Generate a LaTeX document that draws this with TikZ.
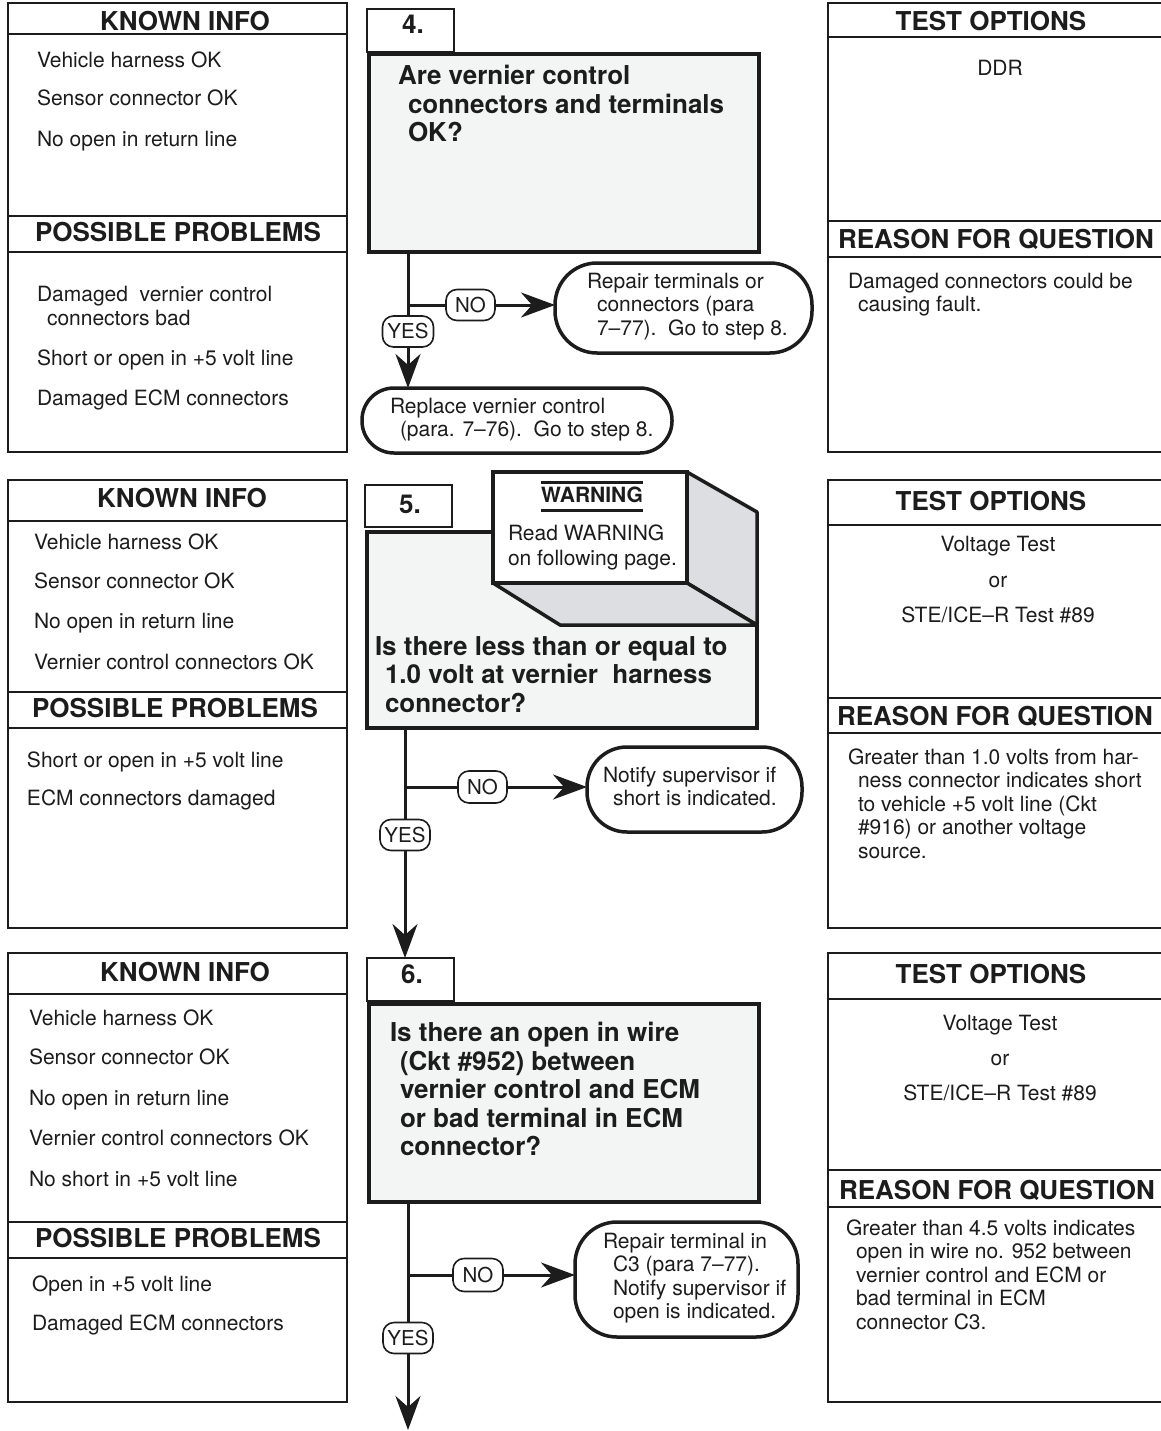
\documentclass[tikz,border=0pt]{standalone}
\usepackage{fontspec}
\setmainfont{TeX Gyre Heros}
\usetikzlibrary{arrows.meta}
\definecolor{ink}{HTML}{1C1C1C}
\definecolor{qgray}{HTML}{F3F4F4}
\definecolor{sidegray}{HTML}{DDDEE1}
\newcommand{\fBody}{\fontsize{21}{23.5}\selectfont}
\newcommand{\fHead}{\fontsize{26}{28}\selectfont\bfseries}
\newcommand{\fQues}{\fontsize{26}{28.5}\selectfont\bfseries}
\newcommand{\fLbl}{\fontsize{20.5}{22}\selectfont}
\newcommand{\fWarn}{\fontsize{21}{23.5}\selectfont\bfseries}
\newcommand{\sB}{\rule{0pt}{16pt}}
\newcommand{\sQ}{\rule{0pt}{20pt}}
\newcommand{\myind}{\hspace*{10pt}}
\begin{document}
\begin{tikzpicture}[x=1pt,y=-1pt,
  every node/.style={inner sep=0pt, outer sep=0pt, text=ink},
  infobox/.style={draw=ink, line width=1.8pt},
  rule/.style={draw=ink, line width=1.8pt},
  qbox/.style={draw=ink, line width=3.5pt, fill=qgray},
  stepbox/.style={draw=ink, line width=2pt, fill=white},
  outcome/.style={draw=ink, line width=3.5pt, fill=white},
  lbl/.style={draw=ink, line width=1.6pt, fill=white, rounded corners=11pt, font=\fLbl},
  flow/.style={draw=ink, line width=3pt},
  arr/.style={flow, -{Stealth[length=34pt,width=25pt,inset=11pt]}},
  hd/.style={anchor=base, font=\fHead},
  txt/.style={anchor=base west, font=\fBody},
  ctxt/.style={anchor=base, font=\fBody},
  para/.style={anchor=north west, align=left, font=\fBody},
  ques/.style={anchor=north west, align=left, font=\fQues},
  face/.style={draw=ink, line width=3.5pt, fill=sidegray, line join=round},
  bar/.style={draw=ink, line width=3pt},
]
\useasboundingbox (0,0) rectangle (1160,1431);
\fill[white] (0,0) rectangle (1160,1431);

% ---------------- left column ----------------
\node[infobox, minimum width=339pt, minimum height=449pt] (k1) at (177.5,227.5) {};
\draw[rule] (k1.west |- 0,34) -- (k1.east |- 0,34);
\draw[rule] (k1.west |- 0,216) -- (k1.east |- 0,216);
\draw[rule] (k1.west |- 0,252) -- (k1.east |- 0,252);
\node[hd] (k1h) at (185,31) {KNOWN INFO};
\node[txt] (k1a) at (37,68) {Vehicle harness OK};
\node[txt] (k1b) at (37,106) {Sensor connector OK};
\node[txt] (k1c) at (37,147) {No open in return line};
\node[hd] (p1h) at (178,241) {POSSIBLE PROBLEMS};
\node[para] (p1a) at (37,285.7) {\sB Damaged\ \ vernier control\\\myind connectors bad};
\node[txt] (p1b) at (37,365) {Short or open in +5 volt line};
\node[txt] (p1c) at (37,405.5) {Damaged ECM connectors};

\node[infobox, minimum width=339pt, minimum height=448pt] (k2) at (177.5,704) {};
\draw[rule] (k2.west |- 0,521) -- (k2.east |- 0,521);
\draw[rule] (k2.west |- 0,692) -- (k2.east |- 0,692);
\draw[rule] (k2.west |- 0,728) -- (k2.east |- 0,728);
\node[hd] (k2h) at (182,507) {KNOWN INFO};
\node[txt] (k2a) at (34,549.3) {Vehicle harness OK};
\node[txt] (k2b) at (34,588.3) {Sensor connector OK};
\node[txt] (k2c) at (34,628.3) {No open in return line};
\node[txt] (k2d) at (34,669) {Vernier control connectors OK};
\node[hd] (p2h) at (175,717) {POSSIBLE PROBLEMS};
\node[txt] (p2a) at (27,767.3) {Short or open in +5 volt line};
\node[txt] (p2b) at (27,805) {ECM connectors damaged};

\node[infobox, minimum width=339pt, minimum height=449pt] (k3) at (177.5,1177.5) {};
\draw[rule] (k3.west |- 0,994) -- (k3.east |- 0,994);
\draw[rule] (k3.west |- 0,1222) -- (k3.east |- 0,1222);
\draw[rule] (k3.west |- 0,1258) -- (k3.east |- 0,1258);
\node[hd] (k3h) at (185,981) {KNOWN INFO};
\node[txt] (k3a) at (29,1025) {Vehicle harness OK};
\node[txt] (k3b) at (29,1064.3) {Sensor connector OK};
\node[txt] (k3c) at (29,1105) {No open in return line};
\node[txt] (k3d) at (29,1145) {Vernier control connectors OK};
\node[txt] (k3e) at (29,1186) {No short in +5 volt line};
\node[hd] (p3h) at (178,1247) {POSSIBLE PROBLEMS};
\node[txt] (p3a) at (32,1291.7) {Open in +5 volt line};
\node[txt] (p3b) at (32,1330) {Damaged ECM connectors};

% ---------------- right column ----------------
\node[infobox, minimum width=337pt, minimum height=449pt] (t1) at (996.5,227.5) {};
\draw[rule] (t1.west |- 0,37) -- (t1.east |- 0,37);
\draw[rule] (t1.west |- 0,221) -- (t1.east |- 0,221);
\draw[rule] (t1.west |- 0,257) -- (t1.east |- 0,257);
\node[hd] (t1h) at (991,31) {TEST OPTIONS};
\node[ctxt] (t1a) at (1000,76) {DDR};
\node[hd] (r1h) at (996,248) {REASON FOR QUESTION};
\node[para] (r1a) at (848,272.3) {\sB Damaged connectors could be\\\myind causing fault.};

\node[infobox, minimum width=337pt, minimum height=448pt] (t2) at (996.5,704) {};
\draw[rule] (t2.west |- 0,525) -- (t2.east |- 0,525);
\draw[rule] (t2.west |- 0,698) -- (t2.east |- 0,698);
\draw[rule] (t2.west |- 0,733) -- (t2.east |- 0,733);
\node[hd] (t2h) at (991,510) {TEST OPTIONS};
\node[ctxt] (t2a) at (998,551.7) {Voltage Test};
\node[ctxt] (t2b) at (998,587.3) {or};
\node[ctxt] (t2c) at (998,622.3) {STE/ICE–R Test \#89};
\node[hd] (r2h) at (995,725) {REASON FOR QUESTION};
\node[para] (r2a) at (848,748) {\sB Greater than 1.0 volts from har-\\\myind ness connector indicates short\\\myind to vehicle +5 volt line (Ckt\\\myind \#916) or another voltage\\\myind source.};

\node[infobox, minimum width=337pt, minimum height=449pt] (t3) at (996.5,1177.5) {};
\draw[rule] (t3.west |- 0,999) -- (t3.east |- 0,999);
\draw[rule] (t3.west |- 0,1170) -- (t3.east |- 0,1170);
\draw[rule] (t3.west |- 0,1207) -- (t3.east |- 0,1207);
\node[hd] (t3h) at (991,983) {TEST OPTIONS};
\node[ctxt] (t3a) at (1000,1030) {Voltage Test};
\node[ctxt] (t3b) at (1000,1065.7) {or};
\node[ctxt] (t3c) at (1000,1100.7) {STE/ICE–R Test \#89};
\node[hd] (r3h) at (997,1199) {REASON FOR QUESTION};
\node[para] (r3a) at (846,1219.3) {\sB Greater than 4.5 volts indicates\\\myind open in wire no. 952 between\\\myind vernier control and ECM or\\\myind bad terminal in ECM\\\myind connector C3.};

% ---------------- step 4 ----------------
\node[qbox, minimum width=390pt, minimum height=198pt] (q4) at (564,153) {};
\node[stepbox, minimum width=87pt, minimum height=43pt] (s4) at (410.5,30.5) {};
\node[anchor=base, font=\fHead] (s4t) at (413,33.5) {4.};
\node[ques] (q4t) at (398,65) {\sQ Are vernier control\\\myind connectors and terminals\\\myind OK?};
\node[lbl, minimum width=49pt, minimum height=31pt] (no4) at (470.5,305) {NO};
\node[lbl, minimum width=51pt, minimum height=31pt] (yes4) at (408,331.5) {YES};
\node[outcome, rounded corners=42pt, minimum width=257pt, minimum height=90pt] (o4a) at (683.5,308) {};
\node[para] (o4at) at (587,272.3) {\sB Repair terminals or\\\myind connectors (para\\\myind 7–77).\ \ Go to step 8.};
\node[outcome, rounded corners=32pt, minimum width=310pt, minimum height=65pt] (o4b) at (517,420.5) {};
\node[para] (o4bt) at (390,397.3) {\sB Replace vernier control\\\myind (para. 7–76).\ \ Go to step 8.};
\coordinate (b4) at (408,305);
\draw[flow] (q4.south -| b4) -- (yes4);
\draw[flow] (b4) -- (no4);
\draw[arr] (no4) -- (no4 -| o4a.west);
\draw[arr] (yes4) -- (yes4 |- o4b.north);

% ---------------- step 5 ----------------
\node[qbox, minimum width=390pt, minimum height=196pt] (q5) at (562,630) {};
\node[stepbox, minimum width=87pt, minimum height=42pt] (s5) at (408.5,506) {};
\node[anchor=base, font=\fHead] (s5t) at (410,513.3) {5.};
\node[draw=ink, line width=3.5pt, fill=white, minimum width=194pt, minimum height=111pt] (wb) at (590,527.5) {};
\draw[face] (wb.north east) -- ++(70,40) -- ++(0,113) -- (wb.south east) -- cycle;
\draw[face] (wb.south west) -- (wb.south east) -- ++(70,42) -- ++(-197,0) -- cycle;
\node[anchor=base, font=\fWarn] (wt) at (592,502.3) {WARNING};
\draw[bar] (wt.west |- 0,482) -- (wt.east |- 0,482);
\draw[bar] (wt.west |- 0,510) -- (wt.east |- 0,510);
\node[txt] (w1) at (508,540.5) {Read WARNING};
\node[txt] (w2) at (508,565.5) {on following page.};
\node[ques] (q5t) at (375,635) {\sQ Is there less than or equal to\\\myind 1.0 volt at vernier\ \ harness\\\myind connector?};
\node[lbl, minimum width=49pt, minimum height=32pt] (no5) at (482.5,787) {NO};
\node[lbl, minimum width=50pt, minimum height=31pt] (yes5) at (405,835) {YES};
\node[outcome, rounded corners=40pt, minimum width=215pt, minimum height=85pt] (n5) at (694.5,789.5) {};
\node[para] (n5t) at (603,766.3) {\sB Notify supervisor if\\\myind short is indicated.};
\coordinate (b5) at (405,787);
\draw[flow] (q5.south -| b5) -- (yes5);
\draw[flow] (b5) -- (no5);
\draw[arr] (no5) -- (no5 -| n5.west);

% ---------------- step 6 ----------------
\node[qbox, minimum width=390pt, minimum height=198pt] (q6) at (564,1103) {};
\node[stepbox, minimum width=87pt, minimum height=43pt] (s6) at (410.5,979.5) {};
\node[anchor=base, font=\fHead] (s6t) at (412,983.3) {6.};
\draw[arr] (yes5) -- (yes5 |- s6.north);
\node[ques] (q6t) at (390,1021.7) {\sQ Is there an open in wire\\\myind (Ckt \#952) between\\\myind vernier control and ECM\\\myind or bad terminal in ECM\\\myind connector?};
\node[lbl, minimum width=50pt, minimum height=33pt] (no6) at (478,1275) {NO};
\node[lbl, minimum width=50pt, minimum height=31pt] (yes6) at (408,1338) {YES};
\node[outcome, rounded corners=42pt, minimum width=223pt, minimum height=115pt] (o6) at (686.5,1279.5) {};
\node[para] (o6t) at (603,1232.3) {\sB Repair terminal in\\\myind C3 (para 7–77).\\\myind Notify supervisor if\\\myind open is indicated.};
\coordinate (b6) at (408,1275);
\coordinate (e6) at (408,1430);
\draw[flow] (q6.south -| b6) -- (yes6);
\draw[flow] (b6) -- (no6);
\draw[arr] (no6) -- (no6 -| o6.west);
\draw[arr] (yes6) -- (e6);
\end{tikzpicture}
\end{document}
